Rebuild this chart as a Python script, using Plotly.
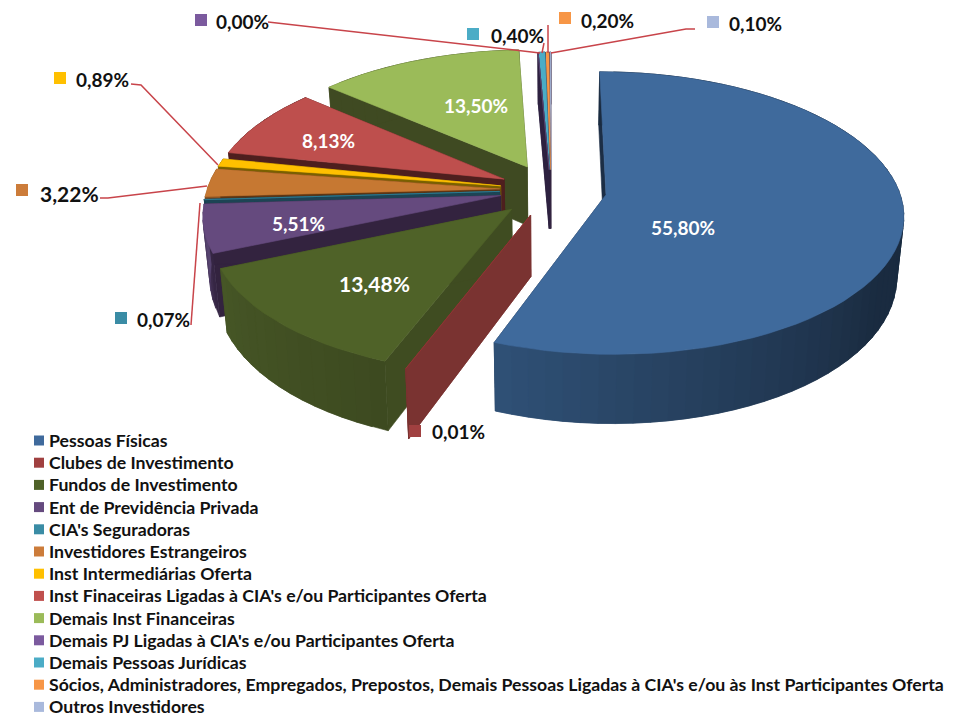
import math
import plotly.graph_objects as go

# ---- data -------------------------------------------------------------
categories = ["Pessoas Físicas", "Clubes de Investimento", "Fundos de Investimento",
              "Ent de Previdência Privada", "CIA's Seguradoras", "Investidores Estrangeiros",
              "Inst Intermediárias Oferta", "Inst Finaceiras Ligadas à CIA's e/ou Participantes Oferta",
              "Demais Inst Financeiras", "Demais PJ Ligadas à CIA's e/ou Participantes Oferta",
              "Demais Pessoas Jurídicas",
              "Sócios, Administradores, Empregados, Prepostos, Demais Pessoas Ligadas à CIA's e/ou às Inst Participantes Oferta",
              "Outros Investidores"]
values = [55.80, 0.01, 13.48, 5.51, 0.07, 3.22, 0.89, 8.13, 13.50, 0.00, 0.40, 0.20, 0.10]
labels = ["55,80%", "0,01%", "13,48%", "5,51%", "0,07%", "3,22%", "0,89%", "8,13%", "13,50%",
          "0,00%", "0,40%", "0,20%", "0,10%"]

# ---- style ------------------------------------------------------------
top_colors = ["#3f6a9c", "#943634", "#4f6228", "#654a7e", "#31859c", "#c67832", "#ffc000",
              "#be4f4d", "#9bbb59", "#5f497a", "#4bacc6", "#f79646", "#a5b6d8"]
key_colors = ["#3f6a9c", "#a04040", "#4f6228", "#654a7e", "#3a8ca5", "#cc7c3a", "#ffc000",
              "#c0504d", "#9bbb59", "#7b5a9e", "#4bacc6", "#f79646", "#a9b9dc"]
side_colors = ["#1c2e45", "#7a3331", "#3f4c21", "#33233f", "#1d4454", "#5e3512", "#7a6000",
               "#4e1f1e", "#3f4a22", "#2d2140", "#33233f", "#33233f", "#33233f"]
arc_start = ["#1a2b40", "#7a3331", "#3d4a20", "#33233f", "#1d4454", "#8a5222", "#7a6000",
             "#4e1f1e", "#3f4a22", "#2d2140", "#33233f", "#33233f", "#33233f"]
arc_end = ["#2f5075", "#7a3331", "#465626", "#5a4775", "#1d4454", "#8a5222", "#7a6000",
           "#4e1f1e", "#3f4a22", "#2d2140", "#33233f", "#33233f", "#33233f"]
pull = [0.19, 0.19, 0.19, 0.175, 0.175, 0.175, 0.175, 0.18, 0.19, 0.15, 0.15, 0.15, 0.15]
draw_order = [12, 11, 10, 9, 8, 7, 6, 5, 4, 3, 2, 1, 0]
# The printed percentages add up to 101.31; the picture takes the excess out of the two
# slices below (index: share of the excess) when it lays the angles out.
excess_split = {2: 0.57, 8: 0.43}

X0, Y0 = 551.0, 190.0        # projected pie centre
RX, RY, PERSP = 293.0, 137.7, 0.129
DEPTH, BASE_SHRINK = 60.0, 0.98
LINE = "#c8444a"


def hex2rgb(h):
    return tuple(int(h[i:i + 2], 16) for i in (1, 3, 5))


def mix(a, b, t):
    ca, cb = hex2rgb(a), hex2rgb(b)
    return "rgb(%d,%d,%d)" % tuple(round(p + (q - p) * t) for p, q in zip(ca, cb))


def project(X, Y, base=False):
    w = 1 - PERSP * Y
    x = X0 + RX * X / w
    y = Y0 + RY * Y / w
    if base:
        x = X0 + (x - X0) * BASE_SHRINK
        y = y + DEPTH / w
    return x, y


def poly(fig, pts, color):
    xs = [p[0] for p in pts] + [pts[0][0]]
    ys = [p[1] for p in pts] + [pts[0][1]]
    fig.add_trace(go.Scatter(x=xs, y=ys, mode="lines", fill="toself", fillcolor=color,
                             line=dict(color=color, width=0.6), hoverinfo="skip", showlegend=False))


excess = sum(values) - 100.0
shares = [v - excess * excess_split.get(i, 0.0) for i, v in enumerate(values)]

fig = go.Figure()
spans = []
cum = 0.0
for v in shares:
    a0 = cum / 100.0 * 2 * math.pi
    cum += v
    spans.append((a0, cum / 100.0 * 2 * math.pi))

for i in draw_order:
    a0, a1 = spans[i]
    mid = (a0 + a1) / 2
    ax, ay = pull[i] * math.sin(mid), -pull[i] * math.cos(mid)
    n = max(2, int((a1 - a0) / math.radians(3)))
    angs = [a0 + (a1 - a0) * k / n for k in range(n + 1)]
    rim = [(ax + math.sin(t), ay - math.cos(t)) for t in angs]
    # radial walls
    for r in (rim[0], rim[-1]):
        poly(fig, [project(ax, ay), project(*r), project(*r, base=True), project(ax, ay, base=True)], side_colors[i])
    # outer wall, shaded strip by strip; each strip overlaps the next to hide seams
    for k in range(n):
        t = (k + 0.5) / n
        if i == 0:
            t = min(1.0, max(0.0, (math.degrees(angs[k]) - 120) / 78))
        e = min(k + 2, n)
        poly(fig, [project(*rim[k]), project(*rim[e]), project(*rim[e], base=True), project(*rim[k], base=True)],
             mix(arc_start[i], arc_end[i], t))
    # top face
    poly(fig, [project(ax, ay)] + [project(*r) for r in rim], top_colors[i])

# leader lines
leaders = [[(268, 22), (540, 53)], [(544, 43), (542, 53)], [(548, 25), (548, 53)],
           [(695, 29), (686, 29), (551, 53)], [(131, 84), (141, 85), (218, 165)],
           [(100, 198), (108, 198), (207, 186)], [(191, 325), (200, 203)]]
for seg in leaders:
    fig.add_trace(go.Scatter(x=[p[0] for p in seg], y=[p[1] for p in seg], mode="lines",
                             line=dict(color=LINE, width=1.5), hoverinfo="skip", showlegend=False))

# legend-style keys
FONT = "Lato"
key_y = [440.5 + 22.2 * i for i in range(len(categories))]
fig.add_trace(go.Scatter(x=[39] * len(categories), y=key_y, mode="markers",
                         marker=dict(symbol="square", size=10, color=key_colors),
                         hoverinfo="skip", showlegend=False))
annotations = [dict(x=46.5, y=yy, text=c, xanchor="left", yanchor="middle", showarrow=False,
                    font=dict(family=FONT, size=17.7, color="#111111", weight=700))
               for c, yy in zip(categories, key_y)]

# data labels: index -> (x, y, colour, size, key position)
label_pos = {0: (683, 227, "white", 19, None), 1: (458, 431, "#111111", 19, (415, 431)),
             2: (374, 283, "white", 21, None), 3: (298, 223, "white", 19, None),
             4: (163, 319, "#111111", 19, (121, 318)), 5: (69, 193, "#111111", 21, (22, 190)),
             6: (102, 79, "#111111", 19, (60, 78)), 7: (328, 140, "white", 19, None),
             8: (476, 105, "white", 19, None), 9: (242, 21, "#111111", 19, (201, 20)),
             10: (517, 35, "#111111", 19, (473, 34)), 11: (607, 20, "#111111", 19, (565, 18)),
             12: (755, 23, "#111111", 19, (713, 22))}
kx, ky, kc = [], [], []
for i, (x, y, col, size, key) in label_pos.items():
    annotations.append(dict(x=x, y=y, text=labels[i], showarrow=False, xanchor="center", yanchor="middle",
                            font=dict(family=FONT, size=size, color=col, weight=700)))
    if key:
        kx.append(key[0]); ky.append(key[1]); kc.append(key_colors[i])
fig.add_trace(go.Scatter(x=kx, y=ky, mode="markers", marker=dict(symbol="square", size=12, color=kc),
                         hoverinfo="skip", showlegend=False))

fig.update_layout(width=953, height=718, margin=dict(l=0, r=0, t=0, b=0), showlegend=False,
                  paper_bgcolor="white", plot_bgcolor="white", annotations=annotations,
                  xaxis=dict(range=[0, 953], visible=False, fixedrange=True),
                  yaxis=dict(range=[718, 0], visible=False, fixedrange=True))
fig.write_html("out.html", config=dict(displayModeBar=False),
               post_script="document.body.style.margin='0';document.body.style.overflow='hidden';")
